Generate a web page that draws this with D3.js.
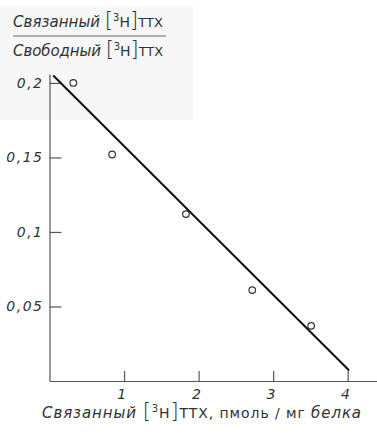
<!DOCTYPE html>
<html lang="ru">
<head>
<meta charset="UTF-8">
<title>Scatchard</title>
<script src="https://cdnjs.cloudflare.com/ajax/libs/d3/7.8.5/d3.min.js"></script>
<style>
  body { margin: 0; background: #fff; }
  text { font-family: "DejaVu Sans", sans-serif; fill: #333; }
</style>
</head>
<body>
<svg id="chart" width="377" height="435"></svg>
<script>
  // data
  const boundX = [0.32, 0.84, 1.83, 2.72, 3.51];
  const ratioY = [0.2, 0.152, 0.112, 0.061, 0.037];
  const fitX = [0.05, 4.02];
  const fitY = [0.205, 0.007];
  const xTicks = [1, 2, 3, 4];
  const yTicks = [0.05, 0.1, 0.15, 0.2];
  const yTickLabels = ['0,05', '0,1', '0,15', '0,2'];

  const svg = d3.select('#chart');

  // faint scan patch behind the title
  svg.append('rect')
    .attr('x', 0).attr('y', 6)
    .attr('width', 193).attr('height', 114)
    .attr('fill', '#f7f7f7');

  const x = d3.scaleLinear().domain([0, 4.4]).range([49.5, 377.5]);
  const y = d3.scaleLinear().domain([0, 0.206]).range([381, 74]);

  const xAxis = svg.append('g')
    .attr('transform', `translate(0,${y(0)})`)
    .call(d3.axisBottom(x)
      .tickValues(xTicks)
      .tickSizeInner(-10)
      .tickSizeOuter(0)
      .tickPadding(8)
      .tickFormat(d3.format('d')));

  const yAxis = svg.append('g')
    .attr('transform', `translate(${x(0)},0)`)
    .call(d3.axisLeft(y)
      .tickValues(yTicks)
      .tickSizeInner(-12)
      .tickSizeOuter(0)
      .tickPadding(6)
      .tickFormat((d, i) => yTickLabels[i]));

  [xAxis, yAxis].forEach(g => {
    g.selectAll('path, line').attr('stroke', '#555').attr('stroke-width', 1.2);
    g.selectAll('text')
      .style('font-size', '14px')
      .style('font-style', 'italic')
      .style('letter-spacing', '1.5px')
      .attr('fill', '#333');
  });
  xAxis.selectAll('text').attr('dx', -2);

  // fitted line
  const fit = fitX.map((v, i) => [v, fitY[i]]);
  svg.append('path')
    .datum(fit)
    .attr('d', d3.line().x(d => x(d[0])).y(d => y(d[1])))
    .attr('stroke', '#111')
    .attr('stroke-width', 2)
    .attr('fill', 'none');

  // experimental points
  svg.selectAll('circle.pt')
    .data(boundX.map((v, i) => [v, ratioY[i]]))
    .enter()
    .append('circle')
    .attr('class', 'pt')
    .attr('cx', d => x(d[0]))
    .attr('cy', d => y(d[1]))
    .attr('r', 3.3)
    .attr('fill', '#fff')
    .attr('stroke', '#333')
    .attr('stroke-width', 1.2);

  // stretch a label to the width it has in the figure
  function fitWidth(t, w) {
    const bw = t.node().getComputedTextLength();
    const n = t.text().length;
    t.style('letter-spacing', ((w - bw) / n) + 'px');
  }

  function isotope(t) {
    t.append('tspan').attr('font-size', 21).attr('font-weight', 200).text('[');
    t.append('tspan').attr('font-size', 10).attr('dy', -6).text('3');
    t.append('tspan').attr('dy', 6).attr('font-size', 14).text('H');
    t.append('tspan').attr('font-size', 21).attr('font-weight', 200).text(']');
  }

  // y label as a fraction
  function fracPart(yy, word) {
    const t = svg.append('text').attr('x', 13).attr('y', yy).style('font-size', '15px');
    t.append('tspan').attr('font-style', 'italic').text(word + ' ');
    isotope(t);
    t.append('tspan').attr('font-size', 13).text('TTX');
    fitWidth(t, 150);
  }
  fracPart(27, 'Связанный');
  svg.append('line')
    .attr('x1', 13).attr('x2', 166)
    .attr('y1', 36).attr('y2', 36)
    .attr('stroke', '#666').attr('stroke-width', 1.2);
  fracPart(56, 'Свободный');

  // x title
  const xt = svg.append('text').attr('x', 42).attr('y', 418).style('font-size', '15px');
  xt.append('tspan').attr('font-style', 'italic').text('Связанный ');
  isotope(xt);
  xt.append('tspan').attr('font-size', 14).text('TTX, пмоль / мг ');
  xt.append('tspan').attr('font-style', 'italic').text('белка');
  fitWidth(xt, 320);
</script>
</body>
</html>
